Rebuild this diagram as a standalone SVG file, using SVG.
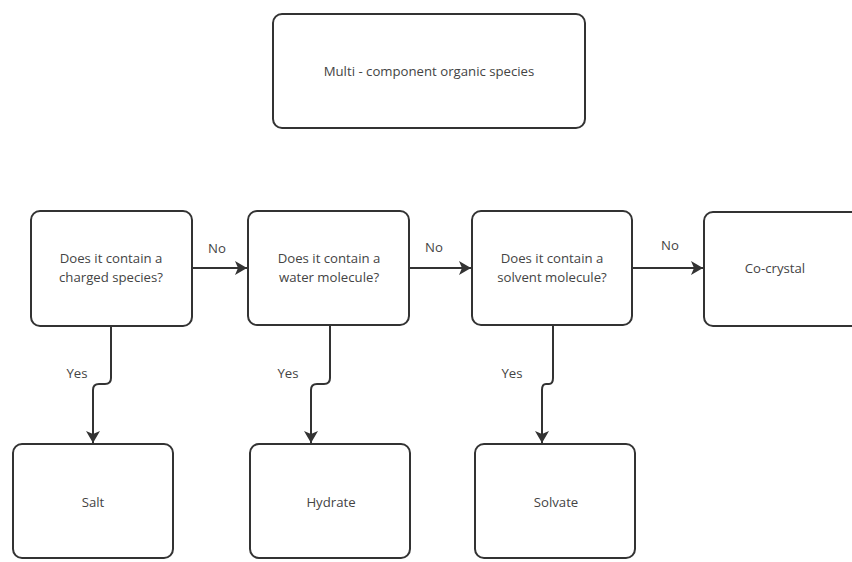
<svg xmlns="http://www.w3.org/2000/svg" width="852" height="562" viewBox="0 0 852 562">
<style>
.box{fill:#fff;stroke:#333;stroke-width:2}
.t{font-family:"Open Sans","Noto Sans",sans-serif;font-size:13.2px;fill:#444;text-anchor:middle;dominant-baseline:central}
.c{fill:none;stroke:#333;stroke-width:2}
</style>
<defs>
<marker id="ah" viewBox="0 0 12 14" refX="12" refY="7" markerWidth="6" markerHeight="7" markerUnits="strokeWidth" orient="auto">
<path d="M0 0 L12 7 L0 14 L3 7 Z" fill="#333"/>
</marker>
</defs>
<rect width="852" height="562" fill="#fff"/>
<g id="connectors">
<path class="c" d="M192 268 H247" marker-end="url(#ah)"/>
<path class="c" d="M409 268 H471" marker-end="url(#ah)"/>
<path class="c" d="M632 268 H703" marker-end="url(#ah)"/>
<path class="c" d="M111 326 V378 Q111 384 105 384 H99 Q93 384 93 390 V443" marker-end="url(#ah)"/>
<path class="c" d="M330 325 V378 Q330 384 324 384 H317 Q311 384 311 390 V443" marker-end="url(#ah)"/>
<path class="c" d="M553 325 V378 Q553 384 549 384 H546 Q542 384 542 390 V443" marker-end="url(#ah)"/>
<text class="t" x="217" y="248">No</text>
<text class="t" x="434" y="247">No</text>
<text class="t" x="670" y="245">No</text>
<text class="t" x="77" y="373">Yes</text>
<text class="t" x="288" y="373">Yes</text>
<text class="t" x="512" y="373">Yes</text>
</g>
<g id="n-multi">
<rect class="box" x="273" y="14" width="312" height="114" rx="9"/>
<text class="t" x="429" y="71">Multi - component organic species</text>
</g>
<g id="n-charged">
<rect class="box" x="31" y="211" width="161" height="115" rx="9"/>
<text class="t" x="111" y="258">Does it contain a</text>
<text class="t" x="111" y="277">charged species?</text>
</g>
<g id="n-water">
<rect class="box" x="248" y="211" width="161" height="114" rx="9"/>
<text class="t" x="329" y="258">Does it contain a</text>
<text class="t" x="329" y="277">water molecule?</text>
</g>
<g id="n-solvent">
<rect class="box" x="472" y="211" width="160" height="114" rx="9"/>
<text class="t" x="552" y="258">Does it contain a</text>
<text class="t" x="552" y="277">solvent molecule?</text>
</g>
<g id="n-cocrystal">
<rect class="box" x="704" y="212" width="161" height="114" rx="9"/>
<text class="t" x="775" y="268">Co-crystal</text>
</g>
<g id="n-salt">
<rect class="box" x="13" y="444" width="160" height="114" rx="9"/>
<text class="t" x="93" y="502">Salt</text>
</g>
<g id="n-hydrate">
<rect class="box" x="250" y="444" width="160" height="114" rx="9"/>
<text class="t" x="331" y="502">Hydrate</text>
</g>
<g id="n-solvate">
<rect class="box" x="475" y="444" width="160" height="114" rx="9"/>
<text class="t" x="556" y="502">Solvate</text>
</g>
</svg>
